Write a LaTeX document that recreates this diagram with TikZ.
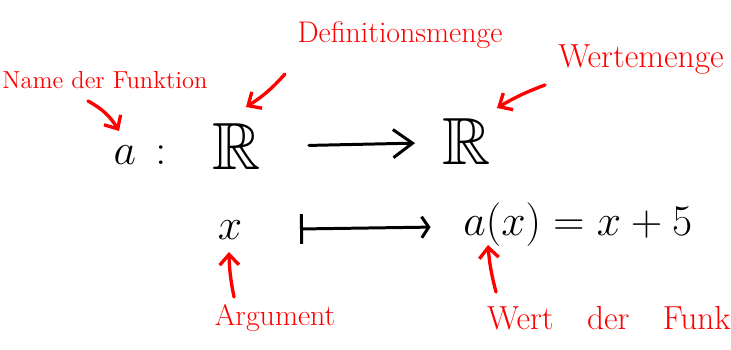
\documentclass[tikz,border=0pt]{standalone}
\usepackage{amssymb}
\usetikzlibrary{arrows.meta}
\newcommand{\redlabel}[4]{\node[note,font=\fontsize{#3}{#3}\selectfont] (#1) at (#2) {#4};}

\begin{document}
\begin{tikzpicture}[x=0.02cm,y=-0.02cm,
  term/.style={font=\fontsize{26}{30}\selectfont,inner sep=0pt},
  setR/.style={font=\fontsize{38}{40}\selectfont,inner sep=0pt},
  note/.style={text=red,inner sep=0pt},
  mainarrow/.style={line width=1.7pt,line cap=round,-{Straight Barb[length=11pt,width=16pt,line width=1.7pt]}},
  mapsarrow/.style={line width=1.7pt,line cap=round,{Bar[width=17pt,line width=1.7pt]}-{Straight Barb[length=4pt,width=12pt,line width=1.7pt]}},
  redarrow/.style={red,line width=1.9pt,line cap=round,-{Straight Barb[length=6pt,width=11pt,line width=1.9pt]}}]
\useasboundingbox (0,0) rectangle (731,350);
% Zuordnung
\node[term] (fn) at (140,155) {$a\,:$};
\node[setR] (dom) at (237,147) {$\mathbb{R}$};
\node[setR] (cod) at (467,142) {$\mathbb{R}$};
\node[term] (arg) at (230,230) {$x$};
\node[term,anchor=west] (val) at (463,225) {$a(x) = x + 5$};
\draw[mainarrow,shorten <=0.95cm,shorten >=0.55cm] (dom) -- (cod);
\draw[mapsarrow,shorten <=1.15cm,shorten >=0.65cm] (arg) -- (val);
% Beschriftungen
\redlabel{lname}{105,80}{14}{Name der Funktion}
\redlabel{ldef}{400,35}{17}{Definitionsmenge}
\redlabel{lwert}{641,60}{19}{Wertemenge}
\redlabel{larg}{275,318}{17}{Argument}
\node[note,font=\fontsize{19}{19}\selectfont,anchor=east] (lval) at (731,318) {Wert\quad der\quad Funk};
\coordinate (nameTail) at (88,101);
\coordinate (nameHead) at (119,131);
\coordinate (defTail) at (285,74);
\coordinate (defHead) at (246,107);
\coordinate (wertTail) at (545,85);
\coordinate (wertHead) at (497,108);
\coordinate (argTail) at (234,297);
\coordinate (argHead) at (229,252);
\coordinate (valTail) at (496,292);
\coordinate (valHead) at (488,245);
\draw[redarrow] (nameTail) to[bend left=15] (nameHead);
\draw[redarrow] (defTail) to[bend left=8] (defHead);
\draw[redarrow] (wertTail) to[bend right=5] (wertHead);
\draw[redarrow] (argTail) to[bend left=5] (argHead);
\draw[redarrow] (valTail) to[bend left=5] (valHead);
\end{tikzpicture}
\end{document}
